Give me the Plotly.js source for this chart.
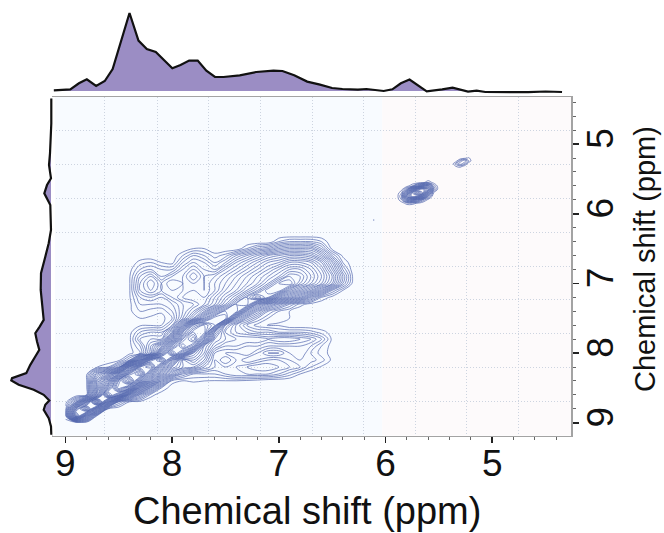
<!DOCTYPE html>
<html><head><meta charset="utf-8">
<script src="https://cdn.plot.ly/plotly-3.0.1.min.js"></script>
<style>html,body{margin:0;padding:0;background:#fff}</style></head>
<body><div id="chart" style="width:664px;height:533px"></div>
<script>
const ppmX = [9.0,8.9,8.8,8.7,8.6,8.5,8.4,8.3,8.2,8.1,8.0,7.9,7.8,7.7,7.6,7.5,7.4,7.3,7.2,7.1,7.0,6.9,6.8,6.7,6.6,6.5,6.4,6.3];
const ppmY = [6.3,6.4,6.5,6.6,6.7,6.8,6.9,7.0,7.1,7.2,7.3,7.4,7.5,7.6,7.7,7.8,7.9,8.0,8.1,8.2,8.3,8.4,8.5,8.6,8.7,8.8,8.9,9.0];
const mainZ = [
[0,0,0,0,0,0,0,0,0,0,0,0,0,0,0,0,0,0,0,0,0,0,0,0,0,0,0,0],
[0,0,0,0,0,0,0,0,0,0,0,0,0,0,0,0,0,0,0,0,2,3,3,3,2,0,0,0],
[0,0,0,0,0,0,0,0,0,0,0,0,1,1,0,0,0,2,4,5,7,8,8,8,5,.5,0,0],
[0,0,0,0,0,0,0,0,0,0,0,2,4,3,1.5,2.5,5,7,9,11,12,13,13,12,9,4,.7,0],
[0,0,0,0,0,0,0,1.5,2,1,.5,4,6,5,3,5,8,10,12,14,15,17,17,16,13,8,2,0],
[0,0,0,0,0,0,.5,3,4,3,3,6,8,6,5,8,10,12,14,16,18,20,20,18,15,10,4,0],
[0,0,0,0,0,0,.8,5,7,4,6,7,10,7,8,10,12,14,16,18,20,23,22,19,16,12,6,.5],
[0,0,0,0,0,0,.8,6,9,6,8,7,8,7,9,11,13,15,17,20,24,25,21,18,15,11,5,.3],
[0,0,0,0,0,0,.8,6,8,6,7,7,8,7,9,12,14,17,20,24,24,19,16,13,9,4,1,0],
[0,0,0,0,0,0,.8,4,5,4,6,8,9,8,11,14,17,21,25,22,16,13,10,6,2,.5,0,0],
[0,0,0,0,0,0,.6,3,3,3,4,6,7,9,12,16,21,22,14,10,7,4,1.5,.3,0,0,0,0],
[0,0,0,0,0,0,.7,2,1.5,1.2,3,6,9,13,18,22,22,13,8,4,2,1,0,0,0,0,0,0],
[0,0,0,0,0,0,0,1,.8,.5,2,7,12,19,24,24,12,7,4,2,1.2,1,0,0,0,0,0,0],
[0,0,0,0,0,0,0,.8,.9,1,4,14,24,27,24,10,6,3,1.5,.9,.9,0,0,0,0,0,0,0],
[0,0,0,0,0,0,.5,3,4,4,9,22,28,28,14,8,6,5,4,4,3,3,3,2.5,1.5,.5,0,0],
[0,0,0,0,0,0,.6,5,6,6,16,27,31,22,11,9,8,8,8,7,8,8,7,6,4,.7,0,0],
[0,0,0,0,0,0,.6,3,8,13,24,30,26,13,9,7,7,6,6,5,5,5,5,4,2,.5,0,0],
[0,0,0,0,0,0,.5,2,8,20,30,24,16,12,6,5,5,6,4,2,2,4,5,3,1.5,.6,0,0],
[0,0,0,0,0,.5,4,15,26,30,20,11,13,10,5,7,5,3,4,5,5,4,4,3.5,2.5,.7,0,0],
[0,0,0,1,2,6,22,30,32,22,14,11,10,7,5,5,5,6,7,7,6,5,4,2,.8,0,0,0],
[0,0,.8,8,12,20,32,36,25,16,9,5,3,3,3,4,5,5,5,5,4,2.5,1,0,0,0,0,0],
[0,0,1,12,20,31,38,28,18,9,1.5,.9,1.2,1,.9,.9,.9,.7,.4,0,0,0,0,0,0,0,0,0],
[0,0,.9,13,24,33,28,16,8,2,.3,0,0,0,0,0,0,0,0,0,0,0,0,0,0,0,0,0],
[0,0,1,16,30,24,12,6,1.5,.2,0,0,0,0,0,0,0,0,0,0,0,0,0,0,0,0,0,0],
[.3,6,16,30,16,4,1,.6,0,0,0,0,0,0,0,0,0,0,0,0,0,0,0,0,0,0,0,0],
[1.5,18,26,14,1,0,0,0,0,0,0,0,0,0,0,0,0,0,0,0,0,0,0,0,0,0,0,0],
[2,24,12,.5,0,0,0,0,0,0,0,0,0,0,0,0,0,0,0,0,0,0,0,0,0,0,0,0],
[0,.2,0,0,0,0,0,0,0,0,0,0,0,0,0,0,0,0,0,0,0,0,0,0,0,0,0,0]];

const spotAX = [5.90,5.85,5.80,5.75,5.70,5.65,5.60,5.55,5.50];
const spotAY = [5.50,5.55,5.60,5.65,5.70,5.75,5.80,5.85,5.90];
const spotAZ = [
[0,0,0,0,0,0,0,0,0],
[0,0,0,0,0,.5,2,.5,0],
[0,0,.3,2,6,10,10,3,0],
[0,.5,4,12,18,20,15,4,0],
[0,2,10,20,24,20,10,1,0],
[0,3,14,20,18,12,4,0,0],
[0,2,8,10,7,3,.5,0,0],
[0,.3,1.5,1.5,.8,0,0,0,0],
[0,0,0,0,0,0,0,0,0]];

const spotBX = [5.38,5.34,5.30,5.26,5.22,5.18];
const spotBY = [5.16,5.20,5.24,5.28,5.32,5.36];
const spotBZ = [
[0,0,0,0,0,0],
[0,0,0,.5,1.2,0],
[0,.3,3,5,2,0],
[0,2.5,5,3,.2,0],
[0,1,1.5,.3,0,0],
[0,0,0,0,0,0]];

const dotX = [6.12,6.11,6.10];
const dotY = [6.08,6.09,6.10];
const dotZ = [[0,0,0],[0,2,0],[0,0,0]];

const topX = [9.108,8.954,8.873,8.799,8.712,8.631,8.557,8.476,8.399,8.315,8.237,8.153,8.076,7.998,7.921,7.840,7.760,7.679,7.598,7.518,7.366,7.211,7.050,6.966,6.856,6.734,6.614,6.501,6.404,6.259,6.179,6.017,5.936,5.856,5.775,5.694,5.614,5.469,5.372,5.227,5.146,5.065,4.856,4.743,4.662,4.500,4.346];
const topI = [.7,1.7,7.7,11.7,5,10,22,51,78,50.4,42,39,30.4,22.7,26,30.4,30.4,20.4,14,14,15.7,19,20.4,20,15.7,9.4,6.4,3,2,1.4,2,0,1.7,7.7,11.4,5.7,-.3,1.7,3.4,-.6,.4,-1,-1.1,-.6,-1.1,-.5,-1];
const leftY = [4.345,4.704,5.134,5.301,5.492,5.588,5.707,5.779,5.875,6.233,6.424,6.616,6.854,7.093,7.332,7.524,7.619,7.715,7.834,7.954,8.049,8.169,8.288,8.360,8.393,8.455,8.527,8.599,8.680,8.742,8.814,8.933,9.053,9.172];
const leftI = [-.3,-.3,1,2,0,4,6.7,4,.7,0,2.3,5.7,10,10.3,9,7.3,11.3,15.7,14,11.7,15.7,20.7,24.7,39,39.7,32.3,17.3,7.3,1.7,5.7,7.3,2.3,0,-.3];

const gridXVals = [8.629,8.141,7.658,7.171,6.689,6.205,5.718,5.240,4.750];
const gridYVals = [4.809,5.294,5.783,6.266,6.751,7.236,7.725,8.209,8.694];
const tickVals = [5,6,7,8,9];
const tickText = ['5','6','7','8','9'];
const xTitle = 'Chemical shift (ppm)';
const yTitle = 'Chemical shift (ppm)';

const W=664,H=533;
const dx=[53/W,571/W], dy=[1-435.5/H,1-97/H];
const xr=[9.116,4.262], yr=[9.183,4.324];
const FONT='"Liberation Sans", Arial, sans-serif';
const LINE='#5266ae';
function cont(x,y,z){return {type:'contour',x,y,z,xaxis:'x',yaxis:'y',showscale:false,hoverinfo:'skip',
  autocontour:false,contours:{coloring:'none',start:1,end:60,size:1,showlabels:false},
  line:{color:LINE,width:.7,smoothing:1}};}
const traces=[
 {type:'scatter',x:gridXVals,y:gridYVals,mode:'none',xaxis:'x4',yaxis:'y4',showlegend:false,hoverinfo:'skip'},
 cont(ppmX,ppmY,mainZ),cont(spotAX,spotAY,spotAZ),cont(spotBX,spotBY,spotBZ),cont(dotX,dotY,dotZ),
 {type:'scatter',mode:'lines',x:topX,y:topI,xaxis:'x2',yaxis:'y2',fill:'tozeroy',fillcolor:'#9b8dc4',line:{color:'#111',width:2.2},showlegend:false},
 {type:'scatter',mode:'lines',x:leftI,y:leftY,xaxis:'x3',yaxis:'y3',fill:'tozerox',fillcolor:'#9b8dc4',line:{color:'#111',width:2.2},showlegend:false}
];
const hidden={visible:false,fixedrange:true};
const layout={
 width:W,height:H,margin:{l:0,r:0,t:0,b:0},paper_bgcolor:'#fff',plot_bgcolor:'#fff',showlegend:false,
 font:{family:FONT,color:'#111'},
 xaxis:{domain:dx,range:xr,anchor:'y',side:'bottom',tickmode:'array',tickvals:tickVals,ticktext:tickText,
   ticks:'outside',ticklen:6,tickwidth:1.5,tickcolor:'#222',tickfont:{size:37,family:FONT,color:'#111'},ticklabelstandoff:-11,
   minor:{dtick:.2,tick0:5,ticks:'outside',ticklen:3,tickwidth:1,tickcolor:'#666',showgrid:false},
   showgrid:false,zeroline:false,showline:true,linecolor:'#a3a3a3',linewidth:1.5,mirror:true},
 yaxis:{domain:dy,range:yr,anchor:'x',side:'right',tickmode:'array',tickvals:tickVals,ticktext:tickText,tickangle:-90,
   ticks:'outside',ticklen:6,tickwidth:1.5,tickcolor:'#222',tickfont:{size:37,family:FONT,color:'#111'},ticklabelstandoff:-10,
   minor:{dtick:.2,tick0:5,ticks:'outside',ticklen:3,tickwidth:1,tickcolor:'#666',showgrid:false},
   showgrid:false,zeroline:false,showline:true,linecolor:'#a3a3a3',linewidth:1.5,mirror:true},
 xaxis4:{domain:dx,range:xr,anchor:'y4',overlaying:'x',tickmode:'array',tickvals:gridXVals,showticklabels:false,ticks:'',
   showgrid:true,griddash:'1px,2px',gridcolor:'#cdd4e0',gridwidth:1,zeroline:false,showline:false},
 yaxis4:{domain:dy,range:yr,anchor:'x4',overlaying:'y',side:'left',tickmode:'array',tickvals:gridYVals,showticklabels:false,ticks:'',
   showgrid:true,griddash:'1px,2px',gridcolor:'#cdd4e0',gridwidth:1,zeroline:false,showline:false},
 xaxis2:Object.assign({domain:dx,range:xr,anchor:'y2'},hidden),
 yaxis2:Object.assign({domain:[1-95/H,1-5/H],range:[-4,86],anchor:'x2'},hidden),
 xaxis3:Object.assign({domain:[3/W,55/W],range:[48,-4],anchor:'y3'},hidden),
 yaxis3:Object.assign({domain:dy,range:yr,anchor:'x3'},hidden),
 shapes:[
  {type:'rect',layer:'below',xref:'x',yref:'paper',x0:xr[0],x1:6.03,y0:dy[0],y1:dy[1],fillcolor:'#f8fbff',line:{width:0}},
  {type:'rect',layer:'below',xref:'x',yref:'paper',x0:6.03,x1:xr[1],y0:dy[0],y1:dy[1],fillcolor:'#fdfafb',line:{width:0}}],
 annotations:[
  {text:xTitle,xref:'paper',yref:'paper',x:307/W,y:1-511/H,xanchor:'center',yanchor:'middle',showarrow:false,font:{size:38,family:FONT,color:'#111'}},
  {text:yTitle,xref:'paper',yref:'paper',x:645/W,y:1-259/H,xanchor:'center',yanchor:'middle',textangle:-90,showarrow:false,font:{size:29,family:FONT,color:'#111'}}
 ]
};
Plotly.newPlot('chart',traces,layout,{displayModeBar:false,staticPlot:true});
</script></body></html>
